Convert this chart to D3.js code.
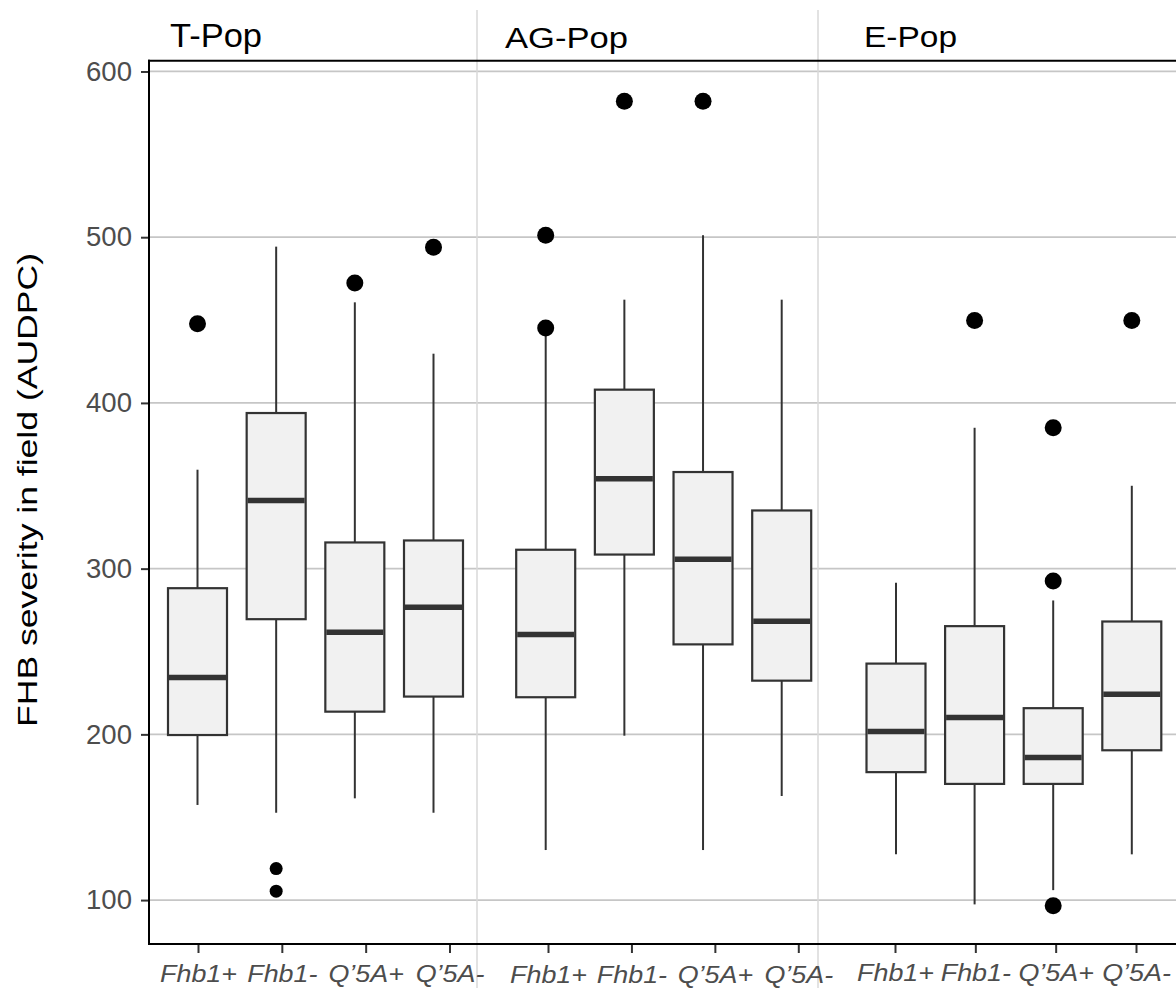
<!DOCTYPE html>
<html>
<head>
<meta charset="utf-8">
<script src="https://cdn.jsdelivr.net/npm/d3@7"></script>
<style>
  html, body { margin: 0; padding: 0; background: #ffffff; }
  svg { display: block; font-family: "Liberation Sans", Arial, sans-serif; }
</style>
</head>
<body>
<svg id="chart" width="1176" height="988"></svg>
<script>
// ---------------- data ----------------
const panels = ["T-Pop", "AG-Pop", "E-Pop"];
const categories = ["Fhb1+", "Fhb1-", "Q\u20195A+", "Q\u20195A-"];
const yTicks = [100, 200, 300, 400, 500, 600];

// per panel, per category (order of categories)
const lowerWhisker = [
  [157.4, 152.7, 161.4, 152.7],
  [130.2, 199.2, 130.2, 162.8],
  [127.6, 97.4, 106.0, 127.6]
];
const q1 = [
  [199.6, 269.5, 213.7, 222.8],
  [222.4, 308.5, 254.3, 232.4],
  [177.2, 170.1, 170.1, 190.4]
];
const median = [
  [234.3, 341.1, 261.6, 276.7],
  [260.2, 354.2, 305.7, 268.3],
  [201.8, 210.2, 186.1, 224.2]
];
const q3 = [
  [288.2, 393.9, 315.8, 317.0],
  [311.4, 408.0, 358.3, 335.1],
  [242.7, 265.3, 215.8, 268.1]
];
const upperWhisker = [
  [359.7, 494.3, 460.7, 429.7],
  [445.0, 462.3, 501.2, 462.3],
  [291.5, 385.0, 280.8, 350.0]
];
const outliers = [
  [[447.8], [119.0, 105.4], [472.4], [494.0]],
  [[501.2, 445.2], [582.1], [582.1], []],
  [[], [449.8], [385.0, 292.5, 96.6], [449.8]]
];

// ---------------- layout ----------------
const W = 1176, H = 988;
const plotLeft = 149, plotTop = 60.7, plotBottom = 944, plotRight = W;
const boxRanges  = [[197.5, 433.5], [545.7, 781.7], [896, 1131.8]];
const tickRanges = [[198, 449.5], [548, 798.3], [895, 1136]];
const labelBaseline = [38, 39, 37];
const separators = [477, 818];
const boxWidth = 59;

const svg = d3.select("#chart");

const y = d3.scaleLinear().domain([73.5, 606.5]).range([plotBottom, plotTop]);

// gridlines
svg.append("g").selectAll("line").data(yTicks).join("line")
  .attr("x1", plotLeft).attr("x2", plotRight)
  .attr("y1", d => y(d)).attr("y2", d => y(d))
  .attr("stroke", "#c6c6c6").attr("stroke-width", 1.8);

// panel separators
svg.append("g").selectAll("line").data(separators).join("line")
  .attr("x1", d => d).attr("x2", d => d)
  .attr("y1", 10).attr("y2", H)
  .attr("stroke", "#d8d8d8").attr("stroke-width", 1.5);

// panel titles
const titleX = [170, 505, 864];
const titleY = [47, 48, 47];
const titleSize = [34, 29, 29];
const titleLen = [92, 123, 93];
svg.append("g").selectAll("text").data(panels).join("text")
  .attr("x", (d, i) => titleX[i]).attr("y", (d, i) => titleY[i])
  .attr("font-size", (d, i) => titleSize[i])
  .attr("textLength", (d, i) => titleLen[i])
  .attr("lengthAdjust", "spacingAndGlyphs")
  .attr("fill", "#000")
  .text(d => d);

// y axis
const yAxis = svg.append("g").attr("transform", `translate(${plotLeft},0)`)
  .call(d3.axisLeft(y).tickValues(yTicks).tickSize(8).tickPadding(9).tickFormat(d3.format("d")));
yAxis.select(".domain").remove();
yAxis.selectAll(".tick line").attr("stroke", "#333").attr("stroke-width", 2);
yAxis.selectAll(".tick text").attr("font-size", 27).attr("fill", "#4d4d4d")
  .attr("font-family", "'Liberation Sans', Arial, sans-serif")
  .attr("textLength", 46).attr("lengthAdjust", "spacingAndGlyphs");

// y title
svg.append("text")
  .attr("transform", "translate(37,490) rotate(-90)")
  .attr("text-anchor", "middle")
  .attr("font-size", 27)
  .attr("textLength", 474)
  .attr("lengthAdjust", "spacingAndGlyphs")
  .attr("fill", "#000")
  .text("FHB severity in field (AUDPC)");

// x axes per panel
panels.forEach((p, pi) => {
  const tx = d3.scalePoint().domain(categories).range(tickRanges[pi]);
  const ax = svg.append("g").attr("transform", `translate(0,${plotBottom})`)
    .call(d3.axisBottom(tx).tickSize(9).tickSizeOuter(0));
  ax.select(".domain").remove();
  ax.selectAll(".tick line").attr("stroke", "#333").attr("stroke-width", 2);
  ax.selectAll(".tick text")
    .attr("y", labelBaseline[pi]).attr("dy", null)
    .attr("font-size", 24).attr("font-style", "italic").attr("fill", "#4d4d4d")
    .attr("font-family", "'Liberation Sans', Arial, sans-serif")
    .attr("transform", "scale(1.12,1)");
});

// axis lines / frame
svg.append("line").attr("x1", plotLeft).attr("x2", plotLeft)
  .attr("y1", plotTop - 1).attr("y2", plotBottom + 1)
  .attr("stroke", "#000").attr("stroke-width", 2);
svg.append("line").attr("x1", plotLeft - 1).attr("x2", plotRight)
  .attr("y1", plotBottom).attr("y2", plotBottom)
  .attr("stroke", "#000").attr("stroke-width", 2);
svg.append("line").attr("x1", plotLeft - 1).attr("x2", plotRight)
  .attr("y1", plotTop).attr("y2", plotTop)
  .attr("stroke", "#000").attr("stroke-width", 2);

// boxes
panels.forEach((p, pi) => {
  const bx = d3.scalePoint().domain(categories).range(boxRanges[pi]);
  const rows = categories.map((c, ci) => ({
    c, ci,
    lo: lowerWhisker[pi][ci], q1: q1[pi][ci], med: median[pi][ci],
    q3: q3[pi][ci], hi: upperWhisker[pi][ci], out: outliers[pi][ci]
  }));
  const g = svg.append("g");
  // whiskers
  g.selectAll("line.wl").data(rows).join("line").attr("class", "wl")
    .attr("x1", d => bx(d.c)).attr("x2", d => bx(d.c))
    .attr("y1", d => y(d.lo)).attr("y2", d => y(d.q1))
    .attr("stroke", "#333").attr("stroke-width", 2);
  g.selectAll("line.wh").data(rows).join("line").attr("class", "wh")
    .attr("x1", d => bx(d.c)).attr("x2", d => bx(d.c))
    .attr("y1", d => y(d.q3)).attr("y2", d => y(d.hi))
    .attr("stroke", "#333").attr("stroke-width", 2);
  // box
  g.selectAll("rect").data(rows).join("rect")
    .attr("x", d => bx(d.c) - boxWidth / 2).attr("width", boxWidth)
    .attr("y", d => y(d.q3)).attr("height", d => y(d.q1) - y(d.q3))
    .attr("fill", "#f1f1f1").attr("stroke", "#333").attr("stroke-width", 2.2);
  // median
  g.selectAll("line.md").data(rows).join("line").attr("class", "md")
    .attr("x1", d => bx(d.c) - boxWidth / 2 + 1).attr("x2", d => bx(d.c) + boxWidth / 2 - 1)
    .attr("y1", d => y(d.med)).attr("y2", d => y(d.med))
    .attr("stroke", "#333").attr("stroke-width", 5.5);
  // outliers
  const pts = rows.flatMap(d => d.out.map(v => ({ c: d.c, v, small: pi === 0 && d.ci === 1 })));
  g.selectAll("circle").data(pts).join("circle")
    .attr("cx", d => bx(d.c)).attr("cy", d => y(d.v))
    .attr("r", d => d.small ? 6.5 : 8.5)
    .attr("fill", "#000");
});
</script>
</body>
</html>
